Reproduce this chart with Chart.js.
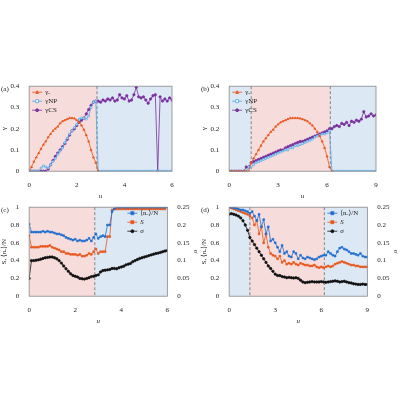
<!DOCTYPE html>
<html><head><meta charset="utf-8">
<script src="https://cdn.jsdelivr.net/npm/chart.js@4"></script>
<style>
body{margin:0;background:#fff;width:400px;height:400px;position:relative;overflow:hidden}
.p{position:absolute;width:200px}
</style></head><body>
<div class="p" style="left:0;top:80px;height:120px"><canvas id="ca"></canvas></div>
<div class="p" style="left:200px;top:80px;height:120px"><canvas id="cb"></canvas></div>
<div class="p" style="left:0;top:201px;height:124px"><canvas id="cc"></canvas></div>
<div class="p" style="left:200px;top:201px;height:124px"><canvas id="cd"></canvas></div>
<script>
// x grids
const uA = Array.from({length: 61}, (_, i) => +(i * 0.1).toFixed(2));
const uB = Array.from({length: 61}, (_, i) => +(i * 0.15).toFixed(2));

// panel (a)
const aGo = [0,0.02,0.045,0.065,0.085,0.105,0.125,0.14,0.16,0.175,0.19,0.2,0.21,0.225,0.235,0.24,0.245,0.25,0.25,0.248,0.24,0.23,0.215,0.195,0.17,0.14,0.1,0.065,0.04,0];
const aGnp = [0,0,0,0,0,0.015,0.025,0.02,0.015,0.03,0.045,0.06,0.08,0.095,0.11,0.135,0.155,0.175,0.19,0.205,0.22,0.245,0.25,0.25,0.245,0.26,0.3,0.325,0.33,
  0,0,0,0,0,0,0,0,0,0,0,0,0,0,0,0,0,0,0,0,0,0,0,0,0,0,0,0,0,0,0,0];
const aGcs = [0,0,0,0,0,0,0,0,0.01,0.03,0.05,0.07,0.085,0.1,0.115,0.13,0.15,0.17,0.19,0.2,0.215,0.23,0.24,0.25,0.27,0.29,0.31,0.325,0.33,0.33,
  0.325,0.335,0.33,0.34,0.335,0.345,0.33,0.335,0.36,0.345,0.34,0.355,0.33,0.335,0.36,0.395,0.35,0.345,0.35,0.335,0.32,0.34,0.355,0.36,0,0.35,0.33,0.34,0.33,0.345,0.335];

// panel (b)
const bGo = [0,0,0,0,0,0,0,0,0,0.04,0.06,0.08,0.1,0.12,0.14,0.155,0.17,0.185,0.195,0.21,0.22,0.23,0.235,0.24,0.245,0.25,0.25,0.25,0.25,0.248,0.245,0.24,0.235,0.225,0.215,0.2,0.185,0.165,0.14,0.11,0.07,0.02,0];
const bGnp = [0,0,0,0,0,0,0,0,0.02,0.02,0.03,0.04,0.045,0.05,0.055,0.06,0.065,0.07,0.075,0.08,0.085,0.09,0.095,0.1,0.1,0.11,0.11,0.12,0.12,0.125,0.13,0.135,0.14,0.145,0.15,0.16,0.165,0.17,0.175,0.175,0.18,0.19,
  0,0,0,0,0,0,0,0,0,0,0,0,0,0,0,0,0,0,0];
const bGcs = [0,0,0,0,0,0,0,0.02,0.02,0.04,0.045,0.05,0.055,0.06,0.065,0.07,0.075,0.08,0.085,0.09,0.095,0.1,0.1,0.11,0.115,0.12,0.125,0.13,0.135,0.14,0.14,0.145,0.15,0.155,0.16,0.165,0.17,0.175,0.18,0.185,0.19,0.2,0.2,0.21,0.215,0.21,0.225,0.22,0.23,0.215,0.235,0.23,0.24,0.235,0.245,0.28,0.255,0.26,0.27,0.26,0.265];

// panel (c)
const cN = [0.81,0.72,0.72,0.72,0.72,0.72,0.73,0.72,0.73,0.72,0.72,0.71,0.7,0.7,0.69,0.68,0.66,0.65,0.64,0.63,0.64,0.62,0.63,0.62,0.62,0.63,0.65,0.62,0.66,0.7,0.65,0.67,0.68,0.67,0.8,0.8,0.95,0.98,
  1,1,1,1,1,1,1,1,1,1,1,1,1,1,1,1,1,1,1,1,1,1,1];
const cS = [0.68,0.55,0.55,0.55,0.55,0.56,0.56,0.56,0.56,0.57,0.55,0.54,0.53,0.52,0.5,0.5,0.48,0.48,0.47,0.47,0.47,0.46,0.47,0.45,0.45,0.46,0.48,0.47,0.5,0.53,0.48,0.5,0.5,0.5,0.67,0.67,0.97,
  0.98,0.98,0.98,0.98,0.98,0.98,0.98,0.98,0.98,0.98,0.98,0.98,0.98,0.98,0.98,0.98,0.98,0.98,0.98,0.98,0.98,0.98,0.98];
const cSig = [0.05,0.1,0.1,0.101,0.102,0.104,0.106,0.108,0.109,0.11,0.11,0.108,0.105,0.1,0.093,0.085,0.077,0.07,0.063,0.058,0.056,0.054,0.05,0.049,0.048,0.05,0.052,0.055,0.056,0.058,0.06,
  0.068,0.072,0.073,0.074,0.075,0.078,0.078,0.077,0.08,0.082,0.084,0.088,0.09,0.092,0.097,0.1,0.103,0.106,0.108,0.11,0.112,0.114,0.116,0.118,0.12,0.121,0.123,0.125,0.127,0.128];

// panel (d)
const dN = [1,1,0.99,0.99,0.98,0.97,0.97,0.96,0.95,0.93,0.95,0.9,0.85,0.92,0.78,0.86,0.7,0.78,0.62,0.64,0.6,0.55,0.5,0.57,0.48,0.5,0.45,0.44,0.5,0.48,0.42,0.46,0.43,0.42,0.44,0.43,0.42,0.41,0.42,0.44,0.45,0.46,0.46,0.5,0.48,0.46,0.45,0.5,0.54,0.55,0.53,0.52,0.5,0.48,0.48,0.47,0.46,0.48,0.45,0.44,0.44];
const dS = [1,0.99,0.98,0.97,0.96,0.95,0.94,0.93,0.92,0.9,0.88,0.8,0.85,0.7,0.78,0.6,0.7,0.55,0.48,0.46,0.45,0.42,0.45,0.38,0.4,0.36,0.37,0.36,0.38,0.36,0.35,0.37,0.36,0.35,0.35,0.34,0.34,0.35,0.33,0.32,0.33,0.32,0.33,0.34,0.33,0.34,0.36,0.37,0.38,0.39,0.38,0.37,0.36,0.35,0.35,0.34,0.34,0.33,0.33,0.33,0.33];
const dSig = [0.23,0.232,0.23,0.228,0.225,0.22,0.212,0.2,0.185,0.165,0.155,0.145,0.135,0.125,0.115,0.105,0.095,0.085,0.078,0.07,0.062,0.058,0.058,0.055,0.054,0.052,0.053,0.052,0.051,0.052,0.05,0.045,0.04,0.038,0.039,0.04,0.041,0.04,0.04,0.04,0.041,0.04,0.039,0.04,0.041,0.042,0.043,0.042,0.04,0.041,0.042,0.04,0.038,0.037,0.035,0.034,0.033,0.033,0.034,0.033,0.033];

const PINK = '#f6dcdb', BLUE = '#dde8f5';
const FONT = '"Liberation Serif", "DejaVu Serif", serif';
Chart.defaults.font.family = FONT;
Chart.defaults.font.size = 7;
Chart.defaults.color = '#222';

function pts(xs, ys) { return ys.map((y, i) => ({x: xs[i], y})); }

function marker(ctx, style, x, y, r, color, fill) {
  ctx.save();
  ctx.strokeStyle = color; ctx.fillStyle = fill ? color : '#fff'; ctx.lineWidth = 0.8;
  ctx.beginPath();
  if (style === 'triangle') { ctx.moveTo(x, y - r); ctx.lineTo(x + r, y + r * 0.8); ctx.lineTo(x - r, y + r * 0.8); ctx.closePath(); }
  else if (style === 'rect') ctx.rect(x - r, y - r, 2 * r, 2 * r);
  else ctx.arc(x, y, r, 0, Math.PI * 2);
  ctx.fill(); ctx.stroke();
  ctx.restore();
}

// shaded regions, dashed borders, frame, panel letter, legend
const decor = {
  id: 'decor',
  beforeDatasetsDraw(chart, args, o) {
    const {ctx, chartArea: a, scales: {x}} = chart;
    ctx.save();
    o.regions.forEach(r => {
      const x0 = x.getPixelForValue(r[0]), x1 = x.getPixelForValue(r[1]);
      ctx.fillStyle = r[2];
      ctx.fillRect(x0, a.top, x1 - x0, a.bottom - a.top);
    });
    ctx.setLineDash([3, 2]);
    ctx.strokeStyle = '#555';
    ctx.lineWidth = 0.7;
    o.lines.forEach(v => {
      const px = x.getPixelForValue(v);
      ctx.beginPath(); ctx.moveTo(px, a.top); ctx.lineTo(px, a.bottom); ctx.stroke();
    });
    ctx.restore();
  },
  afterDraw(chart, args, o) {
    const {ctx, chartArea: a} = chart;
    ctx.save();
    ctx.strokeStyle = '#888';
    ctx.lineWidth = 0.8;
    ctx.strokeRect(a.left, a.top, a.right - a.left, a.bottom - a.top);
    ctx.fillStyle = '#222';
    ctx.font = '7px ' + FONT;
    ctx.textBaseline = 'middle';
    ctx.fillText(o.label, 1, a.top + 3);
    // legend
    const lx = o.legendRight ? a.right - 40 : a.left + 3;
    chart.data.datasets.forEach((s, i) => {
      const ly = a.top + 6 + i * 9;
      ctx.strokeStyle = s.borderColor; ctx.lineWidth = 0.8;
      ctx.beginPath(); ctx.moveTo(lx, ly); ctx.lineTo(lx + 10, ly); ctx.stroke();
      marker(ctx, s.pointStyle, lx + 5, ly, 1.5, s.borderColor, s.backgroundColor !== '#fff');
      ctx.fillStyle = '#222';
      ctx.font = (s.label === 'S' || s.label === 'σ' ? 'italic ' : '') + '7px ' + FONT;
      ctx.fillText(s.label, lx + 13, ly);
    });
    ctx.restore();
  }
};

function ds(label, data, color, style, fill, axis) {
  return {label, data, borderColor: color, backgroundColor: fill ? color : '#fff',
    pointStyle: style, pointRadius: 1.2, pointBorderWidth: 0.7, borderWidth: 0.8,
    yAxisID: axis || 'y'};
}

const fmt = v => String(+v.toFixed(2));

function axX(max, step) {
  return {type: 'linear', min: 0, max, grid: {display: false}, border: {display: false},
    ticks: {stepSize: step, padding: 2, callback: fmt},
    title: {display: true, text: 'u', font: {style: 'italic', size: 7}, padding: 0}};
}

function yAx(max, step, text, pos) {
  return {type: 'linear', position: pos || 'left', min: 0, max,
    grid: {display: false}, border: {display: false},
    ticks: {stepSize: step, padding: 2, callback: fmt},
    title: {display: true, text, font: {size: 7}, padding: 0}};
}

function make(id, datasets, xMax, xStep, yOpts, extra, decorOpts, right) {
  const scales = {x: axX(xMax, xStep), y: yOpts};
  if (extra) scales.y2 = extra;
  new Chart(document.getElementById(id), {
    type: 'line',
    data: {datasets},
    options: {
      responsive: true, maintainAspectRatio: false, animation: false,
      layout: {padding: {left: 0, right: right, top: 6, bottom: 0}},
      scales,
      plugins: {legend: {display: false}, tooltip: {enabled: false}, decor: decorOpts}
    },
    plugins: [decor]
  });
}

const ORG = '#e8581c', CYA = '#4aa8e8', PUR = '#7a2f9e', BLU = '#1f6fd0', BLK = '#111';

make('ca',
  [ds('γₒ', pts(uA, aGo), ORG, 'triangle', true), ds('γNP', pts(uA, aGnp), CYA, 'rect', false), ds('γCS', pts(uA, aGcs), PUR, 'circle', true)],
  6, 2, yAx(0.4, 0.1, 'γ'), null,
  {regions: [[0, 2.85, PINK], [2.85, 6, BLUE]], lines: [2.85], label: '(a)', legendRight: false}, 28);

make('cb',
  [ds('γₒ', pts(uB, bGo), ORG, 'triangle', true), ds('γNP', pts(uB, bGnp), CYA, 'rect', false), ds('γCS', pts(uB, bGcs), PUR, 'circle', true)],
  9, 3, yAx(0.4, 0.1, 'γ'), null,
  {regions: [[0, 1.35, BLUE], [1.35, 6.2, PINK], [6.2, 9, BLUE]], lines: [1.35, 6.2], label: '(b)', legendRight: false}, 24);

make('cc',
  [ds('⟨nₒ⟩/N', pts(uA, cN), BLU, 'rect', true), ds('S', pts(uA, cS), ORG, 'rect', true), ds('σ', pts(uA, cSig), BLK, 'circle', true, 'y2')],
  6, 2, yAx(1, 0.2, 'S, ⟨nₒ⟩/N'), yAx(0.25, 0.05, 'σ', 'right'),
  {regions: [[0, 2.85, PINK], [2.85, 6, BLUE]], lines: [2.85], label: '(c)', legendRight: true}, 0);

make('cd',
  [ds('⟨nₒ⟩/N', pts(uB, dN), BLU, 'rect', true), ds('S', pts(uB, dS), ORG, 'rect', true), ds('σ', pts(uB, dSig), BLK, 'circle', true, 'y2')],
  9, 3, yAx(1, 0.2, 'S, ⟨nₒ⟩/N'), yAx(0.25, 0.05, 'σ', 'right'),
  {regions: [[0, 1.35, BLUE], [1.35, 6.2, PINK], [6.2, 9, BLUE]], lines: [1.35, 6.2], label: '(d)', legendRight: true}, 0);
</script>
</body></html>
